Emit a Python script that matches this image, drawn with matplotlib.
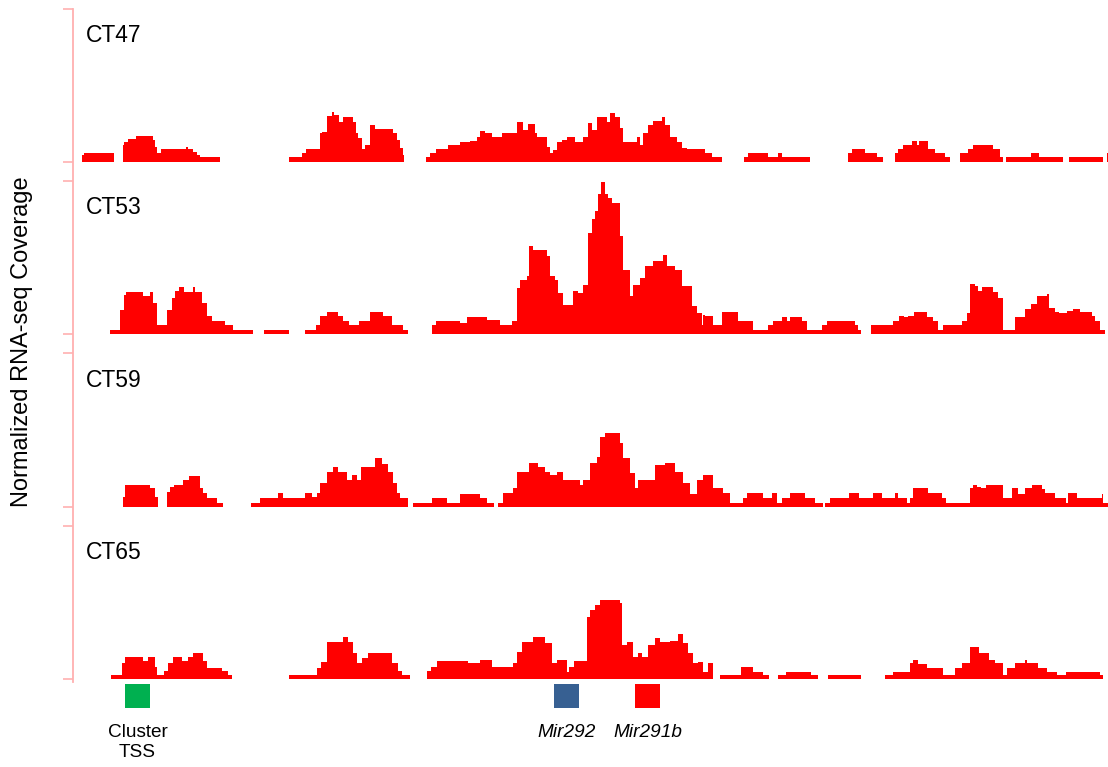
import matplotlib
matplotlib.use("Agg")
import matplotlib.pyplot as plt
from matplotlib.lines import Line2D
from matplotlib.patches import Rectangle

plt.rcParams['font.family'] = ['Liberation Sans', 'DejaVu Sans']

# ---------------- data ----------------
# genomic position axis (arbitrary bins); coverage in normalized units
X_START, X_END = 73, 1108
Y_MAX = 153

sample_names = ["CT47", "CT53", "CT59", "CT65"]

# step edges (len = len(heights)+1); height 0 = no coverage (gap)
ct47_x = [82.3, 84.3, 114.3,
          122.7, 124, 128.3, 136, 152.7, 155, 156.7, 160.7, 186, 188.3, 193.3, 196.7, 200, 220,
          289.3, 301.7, 306, 320, 321.7, 326.7, 331.7, 334, 339.3, 342.7, 353.3, 356, 358.3, 361.7, 365, 370, 375, 393.3, 397.3, 400, 402.7, 404.3,
          425.7, 430, 436, 448.3, 460, 470, 476.7, 480, 485, 491.7, 501.7, 516.7, 523.3, 528.3, 535, 537.3, 546.7, 550, 553.3, 556.7, 561.7, 566.7, 575, 583.3, 588.3, 591.7, 596.7, 606.7, 610, 615, 620, 623.3, 636.7, 640, 643.3, 648.3, 653.3, 661.7, 665, 670, 676.7, 681.7, 686.7, 705, 711.7, 721.7,
          744, 748.3, 768.3, 778.3, 781.7, 810,
          848.3, 851.7, 865, 876.7, 883.3,
          895, 898.3, 902.7, 911.7, 916.7, 919.3, 928.3, 935, 945, 950,
          960, 968.3, 973.3, 993.3, 1000, 1003.3,
          1006, 1030.7, 1039.3, 1063.3,
          1068.7, 1103.3,
          1107.3, 1108]
ct47_h = [6.7, 8.4, 0,
          16.7, 20, 22.4, 25.7, 21.7, 15, 8.4, 12.7, 14.4, 12.7, 10, 6.7, 4.4, 0,
          4.4, 8.4, 12.7, 28.4, 30, 45.7, 50, 46.7, 40, 45, 40, 28.4, 23.4, 12.7, 16.7, 36.7, 32.7, 28.4, 21.7, 13.4, 6.7, 0,
          4.4, 8.4, 12.7, 16.7, 20, 21, 25, 31, 29, 25, 29, 40, 31.7, 37.3, 28.4, 25, 15, 8.4, 11.7, 20, 21.7, 25, 20, 25, 38.3, 31.7, 45, 40, 49, 45, 33.3, 20, 25, 16.7, 28.4, 36.7, 40.7, 44.4, 36.7, 25, 20, 13.4, 12.7, 8.4, 4.4, 0,
          4.4, 8.4, 4.4, 8.4, 4.4, 0,
          8.4, 12.7, 8.4, 4.4, 0,
          8.4, 12.7, 16.7, 21, 17, 21, 12.7, 8.4, 4.4, 0,
          8.4, 12.7, 16.7, 12.7, 4.4, 0,
          4.4, 8.4, 4.4, 0,
          4.4, 0,
          8.4]

ct53_x = [110, 120, 124, 126, 142.7, 150, 153.3, 156.7, 167.3, 171.7, 175, 179.3, 184, 192.7, 195, 201.7, 206.7, 211.7, 225, 233.3, 253.3,
          264.3, 289.3,
          305, 316, 320, 326.7, 338.3, 342.7, 349.3, 359.3, 370, 383.3, 391.7, 403.3, 408.3,
          431.7, 436, 460, 466.7, 486.7, 500, 511.7, 516.7, 520, 526.7, 529.3, 533.3, 546.7, 550, 555, 558.3, 562.7, 572.7, 578.3, 583.3, 588.3, 591.7, 595, 598.3, 600.7, 605, 608.3, 611.7, 620, 623.3, 630, 633.3, 640, 645, 653.3, 663.3, 666.7, 675, 681.7, 691.7, 696.7, 701.7, 703.3, 705, 712.7, 721.7, 738.3, 753.3, 768.3, 773.3, 781.7, 786.7, 790, 801.7, 806.7, 821.7, 826.7, 855, 858.3, 861,
          870.7, 893.3, 899.3, 904, 908.3, 914, 926.7, 933.3, 938.3, 942.7, 961.7, 966.7, 970, 975, 978.3, 981.7, 993.3, 998.3, 1002.7, 1015, 1025, 1030.7, 1037.3, 1046.7, 1049.3, 1055, 1059.3, 1066.7, 1073.3, 1080, 1091.7, 1095, 1100, 1105]
ct53_h = [4.3, 24, 39, 42, 38.3, 42, 31, 8.7, 24, 36, 42.7, 47, 42, 47, 42, 31, 17.7, 12.7, 8.7, 4.3, 0,
          4.3, 0,
          4.3, 8.7, 17.7, 21.7, 17.7, 12.7, 8.7, 12.7, 21.7, 17.7, 8.7, 4.3, 0,
          8.7, 12.7, 11, 16.7, 14.3, 8.7, 12.7, 46, 54.3, 58.3, 88.3, 84.3, 77.7, 57.7, 54.3, 41, 29.3, 42.7, 41, 49.3, 101, 114.3, 122.7, 139.3, 151.7, 139.3, 136, 131, 97.7, 64.3, 37.7, 49.3, 56, 67.7, 72.7, 79.3, 67.7, 64.3, 47.7, 27.7, 21, 9.3, 19.3, 18.3, 8.7, 21.7, 12.7, 4.3, 8.7, 12.7, 16.7, 12.7, 16.7, 12.7, 4.3, 8.7, 12.7, 8.7, 4.3, 0,
          8.7, 13.3, 17.7, 16.7, 17.7, 21.7, 16.7, 12.7, 4.3, 8.7, 12.7, 21, 50.3, 47.7, 42.7, 47, 41.7, 36, 4.3, 16.7, 25, 30.3, 38.3, 40, 26, 21.7, 21, 22.7, 25, 21.7, 17.7, 12.7, 4.3]

ct59_x = [122.7, 125, 150, 155, 157.7,
          167.3, 170, 174, 183.3, 189.3, 200, 203.3, 206.7, 216.7, 222.7,
          250.7, 260, 278.3, 283.3, 305, 311.7, 316.7, 320, 326.7, 332.7, 338.3, 346.7, 351.7, 356.7, 361, 375, 381.7, 388.3, 393.3, 396.7, 400, 407.7,
          413.3, 431.7, 446.7, 460, 480, 486.7, 494,
          498.3, 503.3, 513.3, 517.3, 529.3, 538.3, 545, 550, 556.7, 562.7, 580, 583.3, 590, 596.7, 600, 605, 620, 623.3, 630, 635, 638.3, 655, 665, 675, 683.3, 690, 696.7, 703.3, 712.7, 723.3, 730, 743.3, 746.7, 763.3, 771.7, 776.7, 781.7, 790, 805, 815, 822.7,
          825.3, 830, 849.3, 859, 873.3, 882.3, 895, 898.3, 906.7, 910, 913.3, 928.3, 941.7, 945.7, 970, 972.7, 976.7, 981, 986, 1003.3, 1011.7, 1018.3, 1025, 1031.7, 1041.7, 1045, 1055, 1066, 1068.3, 1077.3, 1101.7, 1103.3, 1108]
ct59_h = [10, 21.7, 18.3, 10, 0,
          15, 20, 21.7, 26.7, 30.7, 18.3, 13.3, 8.3, 4, 0,
          4, 8.3, 13.3, 8.3, 13.3, 10, 13.3, 23.3, 35, 40, 35, 26.7, 31.7, 26.7, 40, 48.3, 42.7, 35, 23.3, 13.3, 8.3, 0,
          4, 8.7, 4, 12.7, 8.3, 4, 0,
          4, 13.3, 18.3, 35, 43.3, 40, 35, 31.7, 35, 26.7, 21.7, 26.7, 43.3, 50, 70, 74, 63.3, 48.3, 33.3, 18.3, 26.7, 41.7, 43.3, 35, 23.3, 12.7, 26.7, 31.7, 18.3, 13.3, 4, 8.3, 13.3, 9, 13.3, 4, 9, 13.3, 9, 4, 0,
          4, 9, 13.3, 9, 13.3, 9, 13.3, 9, 4, 9, 18.3, 13.3, 9, 4, 18.3, 21.7, 20, 18.3, 21.7, 9, 18.3, 12.7, 18.3, 21.7, 17.3, 13.3, 9, 4, 13.3, 9, 12.7, 4]

ct65_x = [111, 121.7, 125, 142.7, 148.3, 155, 157.3, 164, 168.3, 173.3, 181.7, 188.3, 193.3, 196.7, 203.3, 206.7, 221.7, 228.3, 231.7,
          289.3, 317.3, 320.7, 326.7, 342.7, 348.3, 353.3, 356.7, 361.7, 368.3, 375, 391.7, 398.3, 401.7, 410,
          426.7, 430.7, 437.3, 468.3, 480, 491.7, 500, 512.7, 516.7, 521.7, 533.3, 545, 551.7, 556.7, 566.7, 569.3, 574, 586.7, 590, 595, 600, 620, 621.7, 626.7, 632.7, 638.3, 641.7, 648.3, 655, 660, 670, 678.3, 683.3, 688.3, 693.3, 698.3, 703.3, 708.3, 712.7,
          720, 740.7, 753.3, 763.3, 769.3,
          778.3, 785.7, 811, 817.7,
          827.7, 861,
          885, 893.3, 910, 912.7, 918.3, 926.7, 942.7, 955, 961.7, 970, 979.3, 989.3, 995, 1002.7, 1006.7, 1015, 1025, 1027.3, 1038.3, 1046.7, 1056.7, 1066, 1100, 1102.7]
ct65_h = [4, 15.7, 22.3, 18.3, 22.3, 12.3, 4, 8, 15.7, 22.3, 18.3, 22.3, 26.3, 25.7, 18.3, 11.3, 8, 4, 0,
          4, 10.7, 17.3, 37.3, 41.7, 37.3, 25.7, 15.7, 20.7, 26.3, 25.7, 15.7, 8, 4, 0,
          8, 11.7, 18.3, 15.7, 19, 12.3, 11.7, 15.7, 27.3, 37.3, 41.7, 35.7, 15.7, 19, 7.3, 12.3, 18.3, 62.3, 69, 74, 79, 75.7, 34, 37.3, 22.3, 25.7, 22.3, 34, 40.7, 37.3, 38.3, 45, 35.7, 25.7, 15.7, 17.3, 7.3, 15.7, 0,
          4, 12.3, 7.3, 4, 0,
          4, 7.3, 4, 0,
          4, 0,
          4, 7.3, 15.7, 19, 15, 11.3, 4, 10.7, 15.7, 32.3, 26.3, 19, 15.7, 4, 11.3, 15.7, 19, 15.7, 11.3, 7.3, 4, 7.3, 4]

tracks_x = [ct47_x, ct53_x, ct59_x, ct65_x]
tracks_h = [ct47_h, ct53_h, ct59_h, ct65_h]

feature_names = ["Cluster\nTSS", "Mir292", "Mir291b"]
feature_starts = [125, 554, 635]
feature_ends = [150, 579, 660]
feature_colors = ["#00b050", "#376092", "#ff0000"]
feature_italic = [False, True, True]

# ---------------- layout ----------------
W, H = 1108, 767
fig = plt.figure(figsize=(W / 100, H / 100), dpi=100)

panel_tops = [9, 180.7, 353.3, 525.7]      # pixel rows of top ticks
panel_bases = [161.6, 334, 506.7, 679]     # pixel rows of baselines
spine_color = "#ffb0b0"
track_color = "#ff0000"

axes = []
for i, name in enumerate(sample_names):
    top, base = panel_tops[i], panel_bases[i]
    ax = fig.add_axes([X_START / W, 1 - base / H, (X_END - X_START) / W, (base - top) / H])
    ax.stairs(tracks_h[i], tracks_x[i], fill=True, color=track_color, linewidth=0, baseline=0)
    ax.set_xlim(X_START, X_END)
    ax.set_ylim(0, Y_MAX)
    for s in ax.spines.values():
        s.set_visible(False)
    ax.set_xticks([])
    ax.set_yticks([0, Y_MAX])
    ax.set_yticklabels([])
    ax.tick_params(axis='y', length=7.2, width=1.2, color=spine_color, direction='out')
    ax.patch.set_alpha(0)
    ax.text(0.0126, 1 - 33.5 / (base - top), name, transform=ax.transAxes,
            fontsize=16.5, va='baseline', ha='left', color='black')
    axes.append(ax)

# continuous left axis line
fig.add_artist(Line2D([X_START / W, X_START / W], [1 - 9 / H, 1 - 682 / H],
                      transform=fig.transFigure, color=spine_color, linewidth=1.3))

# feature boxes below last track
ax = axes[-1]
for name, s, e, c, it in zip(feature_names, feature_starts, feature_ends, feature_colors, feature_italic):
    ax.add_patch(Rectangle((s, -29), e - s, 24, facecolor=c, edgecolor='none', clip_on=False))
    ax.text((s + e) / 2, -45, name, ha='center', va='top', fontsize=13.7,
            style='italic' if it else 'normal', linespacing=1.25, clip_on=False)

fig.text(22 / W, 1 - 342 / H, "Normalized RNA-seq Coverage", rotation=90,
         ha='center', va='center', fontsize=17)

fig.savefig("out.png", dpi=100)
